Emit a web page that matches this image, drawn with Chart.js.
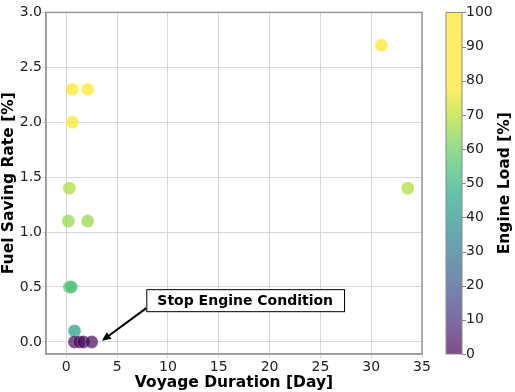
<!DOCTYPE html>
<html>
<head>
    <title>Fuel Saving Rate vs Voyage Duration</title>
    <style>
        body { margin: 0; background: #fff; }
        canvas { display: block; }
    </style>
</head>
<body>
    <canvas id="chart" width="515" height="392"></canvas>
    <script src="https://cdn.jsdelivr.net/npm/chart.js"></script>
    <script>
        // values
        const voyageDays  = [0.6, 2.1, 0.6, 31.0, 0.3, 0.2, 2.1, 33.6, 0.3, 0.5, 0.8, 0.8, 1.3, 1.7, 2.5];
        const fuelSaving  = [2.3, 2.3, 2.0, 2.7, 1.4, 1.1, 1.1, 1.4, 0.5, 0.5, 0.1, 0.0, 0.0, 0.0, 0.0];
        const engineLoad  = [95, 95, 95, 95, 68, 65, 65, 68, 55, 55, 42, 2, 2, 2, 2];
        const loadTicks   = [0, 10, 20, 30, 40, 50, 60, 70, 80, 90, 100];
        const noteText    = 'Stop Engine Condition';
        const notePos     = { x: 17.6, y: 0.38 };
        const arrowTip    = { x: 3.5, y: 0.01 };

        // viridis stops
        const viridis = [
            [68, 1, 84], [72, 36, 117], [65, 68, 135], [53, 95, 141], [42, 120, 142],
            [33, 145, 140], [34, 168, 132], [68, 191, 112], [122, 209, 81], [189, 223, 38], [253, 231, 37]
        ];
        const loadTop = 78; // colormap saturates near here

        function loadColor(v, alpha) {
            let t = Math.max(0, Math.min(1, v / loadTop)) * (viridis.length - 1);
            let i = Math.min(Math.floor(t), viridis.length - 2);
            let f = t - i;
            let c = viridis[i].map((a, k) => Math.round(a + (viridis[i + 1][k] - a) * f));
            return `rgba(${c[0]}, ${c[1]}, ${c[2]}, ${alpha})`;
        }

        const font = 'DejaVu Sans';

        const extras = {
            id: 'extras',
            afterDraw(chart) {
                const ctx = chart.ctx;
                const area = chart.chartArea;
                const xs = chart.scales.x, ys = chart.scales.y, cb = chart.scales.cb;
                ctx.save();

                // full frame around the plot
                ctx.strokeStyle = '#9a9a9a';
                ctx.lineWidth = 1.5;
                ctx.strokeRect(area.left, area.top, area.right - area.left, area.bottom - area.top);

                // colour bar
                const bx = area.right + 24, bw = 16;
                const top = cb.getPixelForValue(100), bottom = cb.getPixelForValue(0);
                const grad = ctx.createLinearGradient(0, bottom, 0, top);
                for (let v = 0; v <= 100; v += 2) {
                    grad.addColorStop(v / 100, loadColor(v, 0.7));
                }
                ctx.fillStyle = grad;
                ctx.fillRect(bx, top, bw, bottom - top);
                ctx.strokeStyle = '#8a8a8a';
                ctx.lineWidth = 1;
                ctx.strokeRect(bx, top, bw, bottom - top);
                ctx.beginPath();
                loadTicks.forEach(v => {
                    const py = Math.round(cb.getPixelForValue(v)) + 0.5;
                    ctx.moveTo(bx + bw, py);
                    ctx.lineTo(bx + bw + 4, py);
                });
                ctx.stroke();

                // colour bar label
                ctx.fillStyle = '#000';
                ctx.font = `bold 15.5px "${font}"`;
                ctx.textAlign = 'center';
                ctx.textBaseline = 'middle';
                ctx.translate(505, (top + bottom) / 2);
                ctx.rotate(-Math.PI / 2);
                ctx.fillText('Engine Load [%]', 0, 0);
                ctx.setTransform(1, 0, 0, 1, 0, 0);

                // annotation box + arrow
                ctx.font = `bold 14px "${font}"`;
                const tx = xs.getPixelForValue(notePos.x), ty = ys.getPixelForValue(notePos.y);
                const w = ctx.measureText(noteText).width + 22, h = 22;
                const l = tx - w / 2, t = ty - h / 2;
                const sx = l, sy = t + h - 3;
                const ex = xs.getPixelForValue(arrowTip.x), ey = ys.getPixelForValue(arrowTip.y);
                const ang = Math.atan2(ey - sy, ex - sx);
                ctx.strokeStyle = '#000';
                ctx.lineWidth = 2;
                ctx.beginPath();
                ctx.moveTo(sx, sy);
                ctx.lineTo(ex - 6 * Math.cos(ang), ey - 6 * Math.sin(ang));
                ctx.stroke();
                ctx.fillStyle = '#000';
                ctx.beginPath();
                ctx.moveTo(ex, ey);
                ctx.lineTo(ex - 9 * Math.cos(ang) + 4 * Math.sin(ang), ey - 9 * Math.sin(ang) - 4 * Math.cos(ang));
                ctx.lineTo(ex - 9 * Math.cos(ang) - 4 * Math.sin(ang), ey - 9 * Math.sin(ang) + 4 * Math.cos(ang));
                ctx.closePath();
                ctx.fill();
                ctx.fillStyle = '#fff';
                ctx.fillRect(l, t, w, h);
                ctx.strokeStyle = '#000';
                ctx.lineWidth = 1;
                ctx.strokeRect(l + 0.5, t + 0.5, w, h);
                ctx.fillStyle = '#000';
                ctx.textAlign = 'center';
                ctx.textBaseline = 'middle';
                ctx.fillText(noteText, tx, ty + 1);

                ctx.restore();
            }
        };

        const points = voyageDays.map((d, i) => ({ x: d, y: fuelSaving[i] }));

        new Chart(document.getElementById('chart').getContext('2d'), {
            type: 'scatter',
            data: {
                datasets: [{
                    data: points,
                    backgroundColor: engineLoad.map(v => loadColor(v, 0.7)),
                    borderColor: 'rgba(255, 255, 255, 0.4)',
                    borderWidth: 0.6,
                    pointRadius: 6.5,
                    pointHoverRadius: 6.5
                }]
            },
            options: {
                responsive: false,
                animation: false,
                layout: { padding: { top: 10, left: 0, right: 0, bottom: 0 } },
                plugins: {
                    legend: { display: false },
                    tooltip: { enabled: false }
                },
                scales: {
                    x: {
                        type: 'linear',
                        min: -2,
                        max: 35,
                        afterFit: s => { s.height = 38; },
                        ticks: {
                            stepSize: 5, includeBounds: false, padding: 1,
                            color: '#222', font: { family: font, size: 14 }
                        },
                        grid: { color: '#d6d6d6', lineWidth: 1, tickLength: 4 },
                        border: { color: '#9a9a9a', width: 1.5 },
                        title: {
                            display: true, text: 'Voyage Duration [Day]', color: '#000',
                            padding: { top: 0, bottom: 0 },
                            font: { family: font, size: 15.5, weight: 'bold' }
                        }
                    },
                    y: {
                        type: 'linear',
                        min: -0.11,
                        max: 3.0,
                        afterFit: s => { s.width = 46; },
                        ticks: {
                            stepSize: 0.5, includeBounds: false, padding: 0,
                            color: '#222', font: { family: font, size: 14 },
                            callback: v => v.toFixed(1)
                        },
                        grid: { color: '#d6d6d6', lineWidth: 1, tickLength: 4 },
                        border: { color: '#9a9a9a', width: 1.5 },
                        title: {
                            display: true, text: 'Fuel Saving Rate [%]', color: '#000',
                            padding: { top: 0, bottom: 0 },
                            font: { family: font, size: 15.5, weight: 'bold' }
                        }
                    },
                    cb: {
                        type: 'linear',
                        position: 'right',
                        min: 0,
                        max: 100,
                        afterFit: s => { s.width = 93; },
                        afterBuildTicks: s => { s.ticks = loadTicks.map(v => ({ value: v })); },
                        ticks: {
                            padding: 4, color: '#222', font: { family: font, size: 14 }
                        },
                        grid: { drawOnChartArea: false, color: 'rgba(0,0,0,0)', tickLength: 40 },
                        border: { display: false }
                    }
                }
            },
            plugins: [extras]
        });
    </script>
</body>
</html>
